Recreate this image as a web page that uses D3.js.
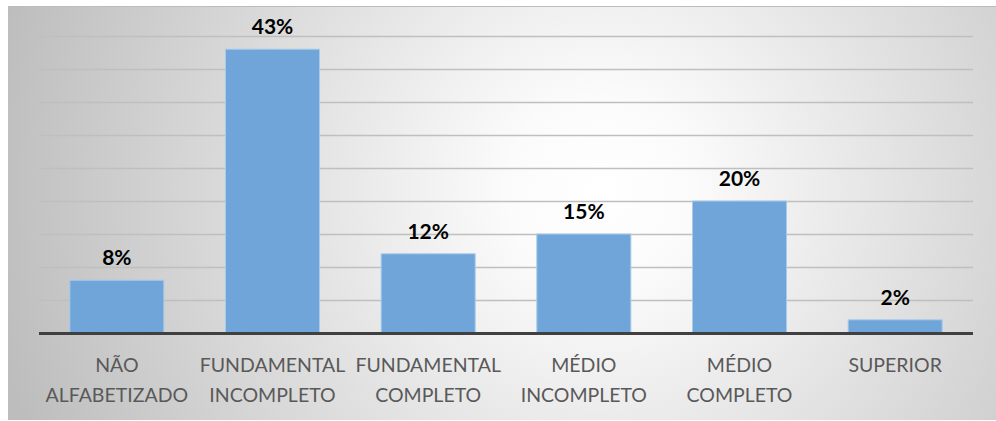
<!DOCTYPE html>
<html>
<head>
<meta charset="utf-8">
<script src="https://cdn.jsdelivr.net/npm/d3@7/dist/d3.min.js"></script>
<style>
  html, body { margin: 0; padding: 0; background: #ffffff; }
  svg { display: block; }
</style>
</head>
<body>
<svg id="chart" width="996" height="421"></svg>
<script>
// Escolaridade: categorias (duas linhas cada) e percentuais
const categories = [
  ["NÃO", "ALFABETIZADO"],
  ["FUNDAMENTAL", "INCOMPLETO"],
  ["FUNDAMENTAL", "COMPLETO"],
  ["MÉDIO", "INCOMPLETO"],
  ["MÉDIO", "COMPLETO"],
  ["SUPERIOR"]
];
const values = [8, 43, 12, 15, 20, 2];
const gridTicks = [5, 10, 15, 20, 25, 30, 35, 40, 45];

const svg = d3.select("#chart");
const W = 996, H = 421;

// Fundo com gradiente radial
const defs = svg.append("defs");
const grad = defs.append("radialGradient")
  .attr("id", "bg")
  .attr("gradientUnits", "userSpaceOnUse")
  .attr("cx", 600).attr("cy", 190).attr("r", 620);
grad.append("stop").attr("offset", "0%").attr("stop-color", "#ffffff");
grad.append("stop").attr("offset", "15%").attr("stop-color", "#fbfbfb");
grad.append("stop").attr("offset", "100%").attr("stop-color", "#bdbdbd");

svg.append("rect")
  .attr("x", 8).attr("y", 6)
  .attr("width", W - 8).attr("height", 414)
  .attr("fill", "url(#bg)");
svg.append("line")
  .attr("x1", 8).attr("x2", W).attr("y1", 6.5).attr("y2", 6.5)
  .attr("stroke", "#bcbcbc").attr("stroke-width", 1);

const plot = { left: 39, right: 973, top: 36, bottom: 333 };

const x = d3.scaleBand()
  .domain(d3.range(categories.length))
  .range([plot.left, plot.right])
  .paddingInner(0.396)
  .paddingOuter(0.198);

const y = d3.scaleLinear()
  .domain([0, 45])
  .range([plot.bottom, plot.top]);

// Linhas de grade
svg.append("g")
  .selectAll("line")
  .data(gridTicks)
  .join("line")
  .attr("x1", plot.left).attr("x2", plot.right)
  .attr("y1", d => Math.round(y(d)) + 0.5)
  .attr("y2", d => Math.round(y(d)) + 0.5)
  .attr("stroke", "#bfbfbf")
  .attr("stroke-width", 1.5);

// Barras
svg.append("g")
  .selectAll("rect")
  .data(values)
  .join("rect")
  .attr("x", (d, i) => x(i))
  .attr("y", d => y(d))
  .attr("width", x.bandwidth())
  .attr("height", d => y(0) - y(d))
  .attr("fill", "#6fa5d9")
  .attr("stroke", "#a9cbea")
  .attr("stroke-width", 1);

// Eixo horizontal
svg.append("line")
  .attr("x1", plot.left).attr("x2", plot.right)
  .attr("y1", plot.bottom + 0.5).attr("y2", plot.bottom + 0.5)
  .attr("stroke", "#404040")
  .attr("stroke-width", 3);

// Rótulos de valor
svg.append("g")
  .selectAll("text")
  .data(values)
  .join("text")
  .attr("x", (d, i) => x(i) + x.bandwidth() / 2)
  .attr("y", d => y(d) - 15)
  .attr("text-anchor", "middle")
  .attr("font-family", "Lato, 'Open Sans', sans-serif")
  .attr("font-weight", "bold")
  .attr("font-size", 21)
  .attr("fill", "#000000")
  .text(d => d + "%");

// Rótulos das categorias
const cat = svg.append("g")
  .selectAll("text")
  .data(categories)
  .join("text")
  .attr("x", (d, i) => x(i) + x.bandwidth() / 2)
  .attr("y", 372)
  .attr("text-anchor", "middle")
  .attr("font-family", "Lato, 'Open Sans', sans-serif")
  .attr("font-size", 19.5)
  .attr("fill", "#595959");
cat.selectAll("tspan")
  .data(d => d)
  .join("tspan")
  .attr("x", function () { return d3.select(this.parentNode).attr("x"); })
  .attr("dy", (d, i) => i === 0 ? 0 : 29.5)
  .text(d => d);
</script>
</body>
</html>
